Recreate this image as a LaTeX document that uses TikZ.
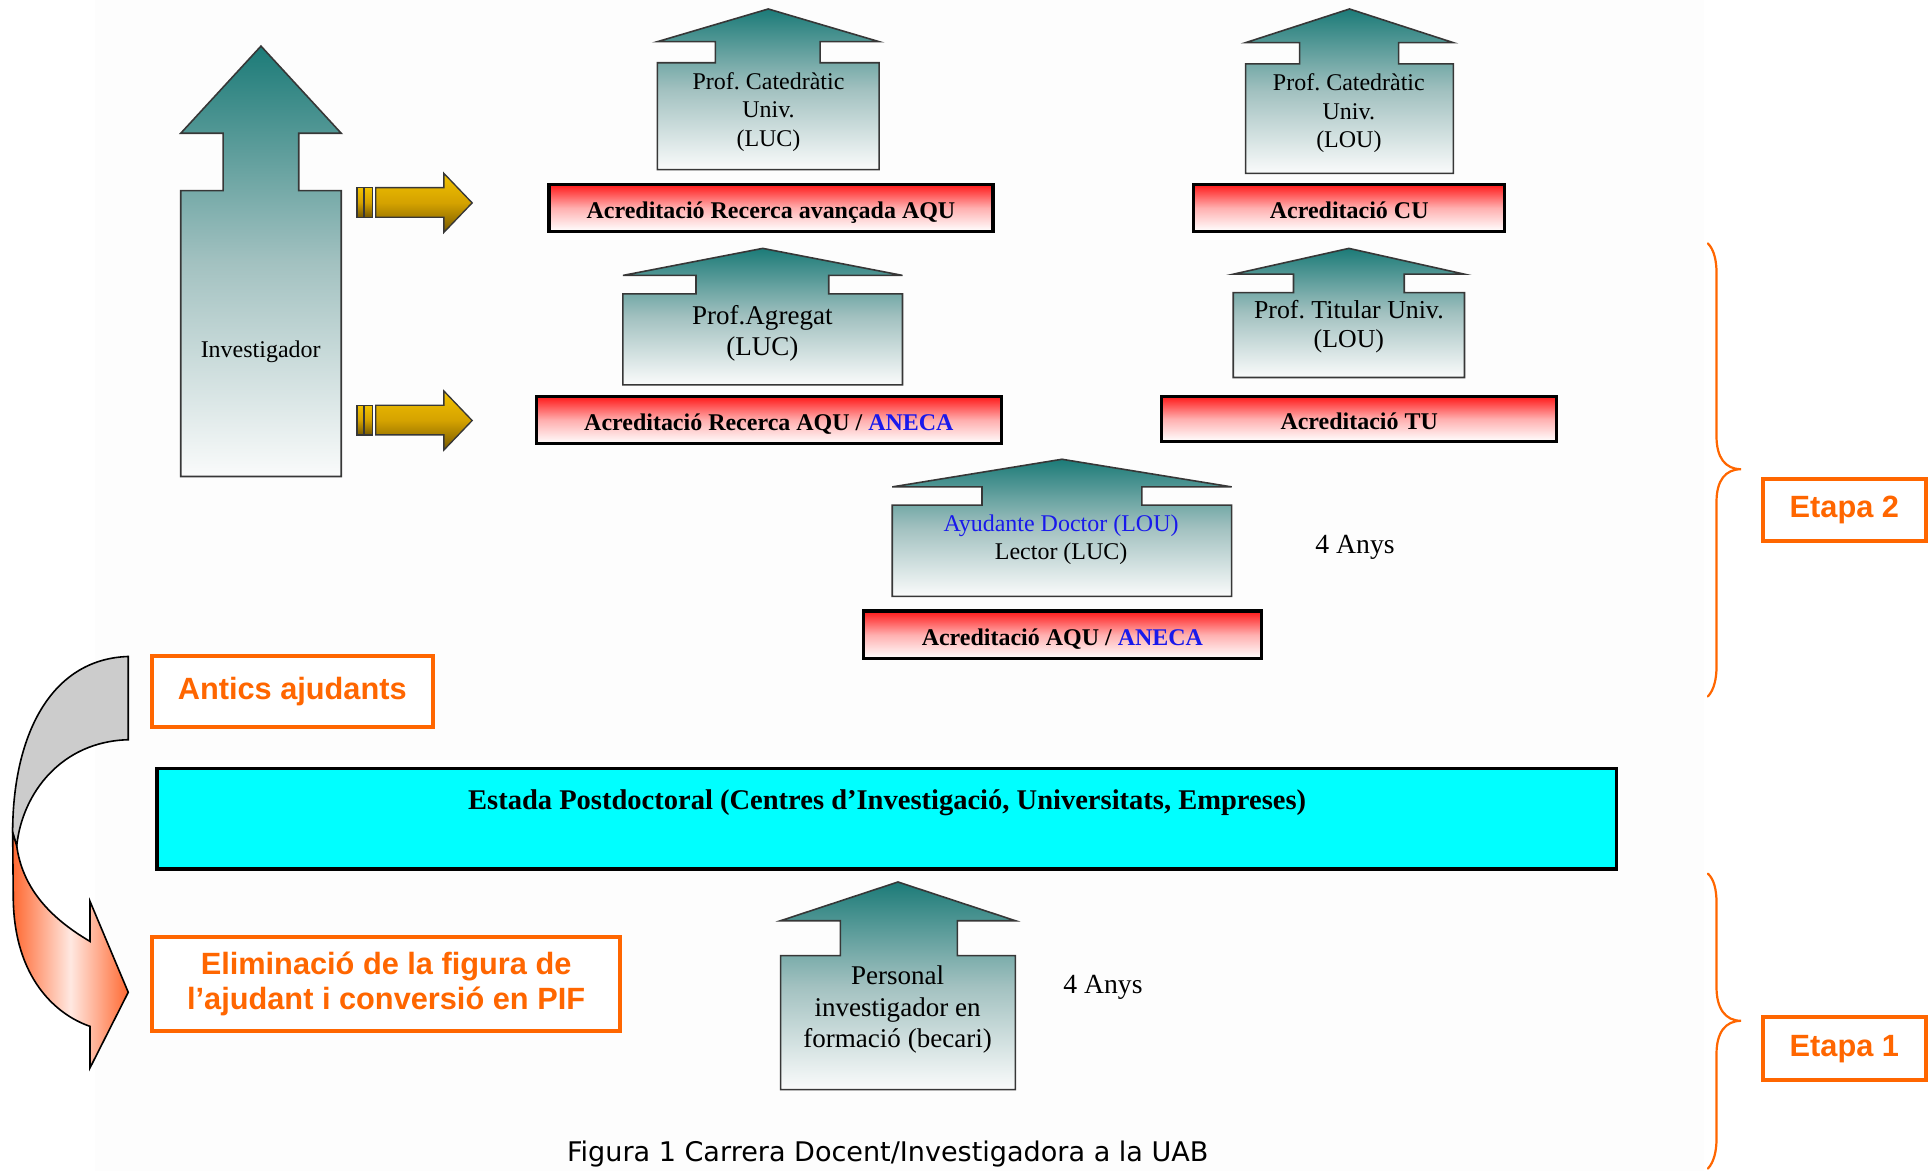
\documentclass[tikz,border=0pt]{standalone}
\usepackage{fontspec}
\setmainfont{Liberation Serif}
\newfontfamily\sansb{Liberation Sans}
\newfontfamily\capfont{DejaVu Sans}
\definecolor{teal1}{RGB}{28,123,120}
\definecolor{tealmid}{RGB}{162,193,192}
\definecolor{arrowline}{RGB}{55,55,55}
\definecolor{redtop}{RGB}{255,25,25}
\definecolor{redmid}{RGB}{255,175,175}
\definecolor{orng}{RGB}{255,102,0}
\definecolor{ablue}{RGB}{25,25,235}
\definecolor{cyanb}{RGB}{0,255,255}
\definecolor{goldtop}{RGB}{242,194,0}
\definecolor{goldmid}{RGB}{212,162,0}
\definecolor{goldbot}{RGB}{118,88,0}
\definecolor{grayarr}{RGB}{204,204,204}
\definecolor{orfront}{RGB}{255,105,50}
\definecolor{orlight}{RGB}{255,232,225}
\definecolor{pagebg}{RGB}{253,253,253}
\tikzset{
  uparr/.style={draw=arrowline, line width=1.3pt, top color=teal1, bottom color={rgb,255:red,250;green,251;blue,251}, middle color=tealmid},
  lbl/.style={align=center, inner sep=0pt, yshift=-3pt, font=\fontsize{19.5}{23}\selectfont},
  lblbig/.style={align=center, inner sep=0pt, yshift=-3pt, font=\fontsize{22}{25.5}\selectfont},
  redbox/.style={draw=black, line width=2.6pt, top color=redtop, bottom color=white, middle color=redmid, inner sep=0pt, text height=17pt, text depth=0pt, font=\fontsize{19.5}{23}\selectfont\bfseries},
  goldarr/.style={draw=arrowline, line width=1.1pt, top color=goldtop, bottom color=goldbot, middle color=goldmid},
  obox/.style={draw=orng, line width=3.2pt, fill=white, text=orng, align=center, inner sep=0pt, font=\sansb\bfseries\fontsize{25}{28}\selectfont},
  brace/.style={draw=orng, line width=1.8pt, line cap=round},
}
\newcommand\UpArrowShape[8]{%
  \path[uparr] (#1,#6) -- ({(#1+#2)/2},#5) -- (#2,#6) -- (#4,#6) -- (#4,#7) -- (#2,#7) -- (#2,#8) -- (#1,#8) -- (#1,#7) -- (#3,#7) -- (#3,#6) -- cycle;}
\newcommand\GoldArrow[1]{%
  \path[goldarr] (290.4,#1-12.4) rectangle (295.8,#1+11.7);
  \path[goldarr] (296.5,#1-12.4) rectangle (303,#1+11.7);
  \path[goldarr] (305.6,#1-12.4) -- (361,#1-12.4) -- (361,#1-24) -- (384,#1) -- (361,#1+24) -- (361,#1+11.7) -- (305.6,#1+11.7) -- cycle;}
\begin{document}
\frenchspacing
\begin{tikzpicture}[x=1pt,y=-1pt]
\useasboundingbox (0,0) rectangle (1568,952);
\fill[pagebg] (77,0) rectangle (1386,952);

% up arrows
\UpArrowShape{147}{277.5}{181.5}{243}{37.5}{108.4}{155}{387.5}
\UpArrowShape{534.6}{715}{581.8}{667}{7.3}{33.9}{51}{138}
\UpArrowShape{1013}{1182}{1057}{1137.5}{7.3}{34.7}{52}{141}
\UpArrowShape{506.6}{734}{566}{674}{202}{224}{239}{313}
\UpArrowShape{1003}{1191}{1052}{1142}{202}{223}{238}{307}
\UpArrowShape{725.6}{1001.7}{798.6}{928.7}{373.5}{396}{410.8}{485}
\UpArrowShape{634.8}{825.8}{683.4}{778.6}{717.3}{748.8}{777.2}{886.2}

\node[lbl] (tinv) at (212,283) {Investigador};
\node[lbl] (tcatluc) at (625,88) {Prof. Catedràtic\\Univ.\\(LUC)};
\node[lbl] (tcatlou) at (1097,89) {Prof. Catedràtic\\Univ.\\(LOU)};
\node[lblbig] (tagr) at (620,268) {Prof.Agregat\\(LUC)};
\node[lbl, font=\fontsize{21}{23.5}\selectfont] (ttit) at (1097,263) {Prof. Titular Univ.\\(LOU)};
\node[lbl] (tayu) at (863,436) {\textcolor{ablue}{Ayudante Doctor (LOU)}\\Lector (LUC)};
\node[lblbig, font=\fontsize{22}{26}\selectfont] (tpers) at (730,818) {Personal\\investigador en\\formació (becari)};

% gold arrows
\GoldArrow{165}
\GoldArrow{342}

% red accreditation boxes
\node[redbox, minimum width=361pt, minimum height=38pt] (r1) at (627,169) {Acreditació Recerca avançada AQU};
\node[redbox, minimum width=253pt, minimum height=38pt] (r2) at (1097.3,169) {Acreditació CU};
\node[redbox, minimum width=378.6pt, minimum height=38.5pt] (r3) at (625.3,341.7) {Acreditació Recerca AQU / \textcolor{ablue}{ANECA}};
\node[redbox, minimum width=321.3pt, minimum height=36.5pt] (r4) at (1105.4,340.7) {Acreditació TU};
\node[redbox, minimum width=324pt, minimum height=38.5pt] (r5) at (864,516.2) {Acreditació AQU / \textcolor{ablue}{ANECA}};

\node[lblbig, font=\fontsize{22.5}{26}\selectfont] (any2) at (1102,442) {4 Anys};
\node[lblbig, font=\fontsize{22.5}{26}\selectfont] (any1) at (897,800) {4 Anys};

% postdoc box
\node[draw=black, line width=2.6pt, fill=cyanb, minimum width=1187pt, minimum height=81.8pt, inner sep=0pt] (post) at (721.2,665.9) {};
\node[lbl, font=\fontsize{23.2}{26}\selectfont\bfseries] (posttxt) at (721.5,650) {Estada Postdoctoral (Centres d’Investigació, Universitats, Empreses)};

% curved arrow
\path[draw=black, line width=1.3pt, fill=grayarr] (104.3,533.9) .. controls (40,536) and (10.3,600) .. (10.3,677) -- (13.6,688) .. controls (18,645) and (50,603) .. (104.3,601.6) -- cycle;
\path[draw=black, line width=1.3pt, left color=orfront, right color=orfront, middle color=orlight] (10.3,677) -- (10.8,732) .. controls (12,795) and (45,825) .. (73.2,834.7) -- (73.2,868.5) -- (104.3,807) -- (73.2,733) -- (73.2,765.6) .. controls (38,745) and (18,720) .. (13.6,688) -- cycle;

% orange boxes
\node[obox, minimum width=228.6pt, minimum height=57.7pt] (antics) at (237.7,562.5) {Antics ajudants};
\node[obox, minimum width=381pt, minimum height=76.6pt] (elim) at (314,800.3) {Eliminació de la figura de\\[0pt]l’ajudant i conversió en PIF};
\node[obox, minimum width=133pt, minimum height=51pt] (et2) at (1500,414.8) {Etapa 2};
\node[obox, minimum width=133pt, minimum height=51pt] (et1) at (1500,852.9) {Etapa 1};

% braces
\draw[brace] (1389,198) .. controls (1394,203) and (1396,212) .. (1396,222) -- (1396,355) .. controls (1396,372) and (1403,381.6) .. (1416,381.6) .. controls (1403,381.6) and (1396,391) .. (1396,408) -- (1396,542) .. controls (1396,552) and (1394,561) .. (1389,566.4);
\draw[brace] (1389,710.5) .. controls (1394,715) and (1396,724) .. (1396,734) -- (1396,803) .. controls (1396,820) and (1403,830.2) .. (1416,830.2) .. controls (1403,830.2) and (1396,840) .. (1396,857) -- (1396,926) .. controls (1396,936) and (1394,945) .. (1389,950.4);

% caption
\node[anchor=base, inner sep=0pt, font=\capfont\fontsize{22}{25}\selectfont] (cap) at (722,945) {Figura 1 Carrera Docent/Investigadora a la UAB};
\end{tikzpicture}
\end{document}
